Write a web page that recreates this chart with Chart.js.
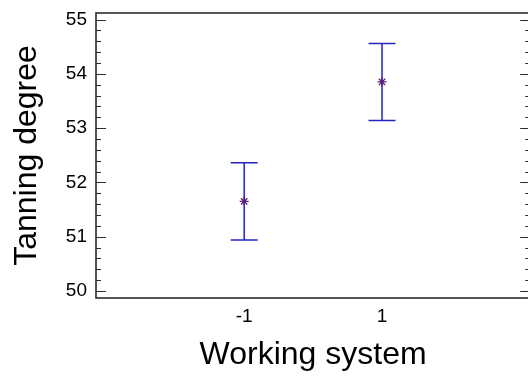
<!DOCTYPE html>
<html>
<head>
<meta charset="utf-8">
<script src="https://cdn.jsdelivr.net/npm/chart.js@4"></script>
<style>
html, body { margin: 0; padding: 0; background: #fff; overflow: hidden; }
#wrap { width: 528px; height: 385px; overflow: hidden; }
</style>
</head>
<body>
<div id="wrap"><canvas id="chart" width="536" height="385"></canvas></div>
<script>
const levels = [-1, 1]
const means = [51.65, 53.85]
const lower = [50.94, 53.14]
const upper = [52.36, 54.56]
const xTicks = [-1, 1]
const yTicks = [50, 51, 52, 53, 54, 55]

const fontFamily = "'Liberation Sans', Arial, sans-serif"
const frameColor = "#2b2b2b"
const barColor = "#2424c0"

// error bars under the points
const errorBars = {
  id: "errorBars",
  beforeDatasetsDraw(chart) {
    const {ctx, scales: {x, y}} = chart
    ctx.save()
    ctx.strokeStyle = barColor
    ctx.lineWidth = 1.5
    levels.forEach((lv, i) => {
      const px = x.getPixelForValue(lv)
      const top = y.getPixelForValue(upper[i])
      const bot = y.getPixelForValue(lower[i])
      ctx.beginPath()
      ctx.moveTo(px, top); ctx.lineTo(px, bot)
      ctx.moveTo(px - 13.5, top); ctx.lineTo(px + 13.5, top)
      ctx.moveTo(px - 13.5, bot); ctx.lineTo(px + 13.5, bot)
      ctx.stroke()
    })
    ctx.restore()
  }
}

// box frame with inward ticks on both vertical sides
const frame = {
  id: "frame",
  afterDraw(chart) {
    const {ctx, chartArea: a, scales: {y}} = chart
    ctx.save()
    ctx.strokeStyle = frameColor
    ctx.lineWidth = 1.6
    ctx.strokeRect(a.left, a.top, a.right - a.left, a.bottom - a.top)
    ctx.lineWidth = 1
    ctx.beginPath()
    for (let k = 0; k <= 25; k++) {
      const v = 50 + k * 0.2
      const py = Math.round(y.getPixelForValue(v)) + 0.5
      const len = k % 5 == 0 ? 10 : 5
      ctx.moveTo(a.left, py); ctx.lineTo(a.left + len, py)
      ctx.moveTo(a.right, py); ctx.lineTo(a.right - len, py)
    }
    ctx.stroke()
    ctx.restore()
  }
}

const tickFont = { family: fontFamily, size: 19 }
const titleFont = { family: fontFamily, size: 32 }

new Chart(document.getElementById("chart"), {
  type: "scatter",
  data: {
    datasets: [{
      data: levels.map((lv, i) => ({ x: lv, y: means[i] })),
      pointStyle: "star",
      radius: 4.5,
      borderWidth: 1.3,
      borderColor: "#5a1f78",
      backgroundColor: "#5a1f78"
    }]
  },
  options: {
    responsive: false,
    animation: false,
    devicePixelRatio: 1,
    layout: { padding: { top: 13, left: 0, right: 0, bottom: 0 } },
    plugins: { legend: { display: false }, tooltip: { enabled: false } },
    scales: {
      x: {
        type: "linear",
        min: -3.15,
        max: 3.15,
        grid: { display: false, drawTicks: false },
        border: { display: false },
        afterBuildTicks: s => { s.ticks = xTicks.map(v => ({ value: v })) },
        afterFit: s => { s.height = 87; s.paddingLeft = 0; s.paddingRight = 0 },
        ticks: { padding: 7, color: "#000", font: tickFont },
        title: { display: true, text: "Working system", color: "#000", font: titleFont, padding: { top: 0, bottom: 11 } }
      },
      y: {
        min: 49.87,
        max: 55.12,
        grid: { display: false, drawTicks: false },
        border: { display: false },
        afterBuildTicks: s => { s.ticks = yTicks.map(v => ({ value: v })) },
        afterFit: s => { s.width = 96; s.paddingTop = 0; s.paddingBottom = 0 },
        ticks: { padding: 9, color: "#000", font: tickFont },
        title: { display: true, text: "Tanning degree", color: "#000", font: titleFont, padding: { top: 7.5, bottom: 0 } }
      }
    }
  },
  plugins: [errorBars, frame]
})
</script>
</body>
</html>
